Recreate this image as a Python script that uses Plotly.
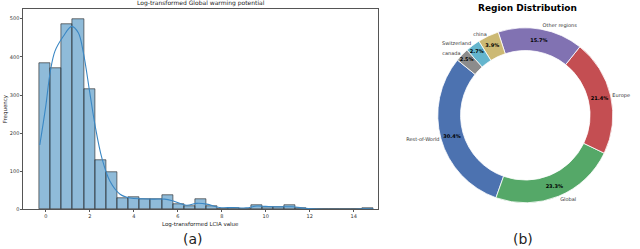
import numpy as np
import plotly.graph_objects as go

# ---------------- data ----------------
bin_min = -0.29
bin_max = 14.89
counts = [383, 370, 485, 499, 314, 129, 98, 29, 31, 27, 27, 37, 13, 8, 28,
          8, 0, 4, 0, 12, 7, 6, 10, 3, 0, 0, 0, 0, 0, 3]

kde_x = [-0.27, 0.0, 0.2, 0.42, 0.8, 1.18, 1.48, 1.71, 2.0, 2.24, 2.55, 2.92,
         3.38, 3.83, 4.4, 4.9, 5.4, 5.8, 6.4, 6.86, 7.32, 7.9, 8.5, 9.1, 9.6,
         10.0, 10.5, 11.2, 11.8, 12.3, 13.0, 13.8, 14.3, 14.6, 14.9]
kde_y = [169, 270, 359, 415, 454, 480, 463, 411, 307, 221, 135, 74,
         40, 30, 28, 27, 27, 22, 11, 16, 14, 5, 5, 4, 9,
         8, 7, 7, 3, 1, 0.5, 0.3, 1, 2, 1]

x_ticks = [0, 2, 4, 6, 8, 10, 12, 14]
y_ticks = [0, 100, 200, 300, 400, 500]

regions = ["Rest-of-World", "Global", "Europe", "Other regions", "china",
           "Switzerland", "canada"]
shares = [30.4, 23.3, 21.4, 15.7, 3.9, 2.7, 2.5]
region_colors = ["#4c72b0", "#55a868", "#c44e52", "#8172b2", "#ccb974",
                 "#64b5cd", "#8c8c8c"]

# ---------------- figure ----------------
n_bins = len(counts)
edges = np.linspace(bin_min, bin_max, n_bins + 1)
centers = (edges[:-1] + edges[1:]) / 2
bw = edges[1] - edges[0]

FONT = "DejaVu Sans"
fig = go.Figure()

fig.add_trace(go.Bar(
    x=centers, y=counts, width=bw,
    marker=dict(color="rgba(31,119,180,0.5)",
                line=dict(color="rgba(40,40,40,0.8)", width=0.8)),
    xaxis="x", yaxis="y", showlegend=False, hoverinfo="skip"))

fig.add_trace(go.Scatter(
    x=kde_x, y=kde_y, mode="lines", line=dict(color="#3a87c4", width=1.1, shape="spline"),
    xaxis="x", yaxis="y", showlegend=False, hoverinfo="skip"))

pie_domain = dict(x=[0.6823, 0.9593], y=[0.1755, 0.8871])
rot = -160.4

fig.add_trace(go.Pie(
    labels=regions, values=shares, sort=False, direction="counterclockwise",
    rotation=rot, hole=0.74, domain=pie_domain,
    marker=dict(colors=region_colors, line=dict(color="white", width=0.8)),
    texttemplate="<b>%{value:.1f}%</b>", textposition="inside",
    insidetextorientation="horizontal",
    insidetextfont=dict(family=FONT, size=5, color="black"),
    showlegend=False, hoverinfo="skip"))

fig.add_trace(go.Pie(
    labels=regions, values=shares, sort=False, direction="counterclockwise",
    rotation=rot, hole=0.74, domain=pie_domain,
    marker=dict(colors=["rgba(0,0,0,0)"] * len(regions), line=dict(width=0)),
    textinfo="label", textposition="outside",
    outsidetextfont=dict(family=FONT, size=5, color="#333333"),
    showlegend=False, hoverinfo="skip"))

axis_common = dict(showline=True, linecolor="#555555", linewidth=0.8, mirror=True,
                   ticks="outside", ticklen=2, tickwidth=0.6, tickcolor="#555555",
                   tickfont=dict(family=FONT, size=5, color="#333333"),
                   showgrid=False, zeroline=False)

fig.update_layout(
    width=640, height=249, margin=dict(l=0, r=0, t=0, b=0),
    paper_bgcolor="white", plot_bgcolor="white",
    bargap=0,
    uniformtext=dict(minsize=5, mode="show"),
    xaxis=dict(domain=[0.0364, 0.5906], range=[-1.02, 15.1], tickvals=x_ticks, **axis_common),
    yaxis=dict(domain=[0.1486, 0.9627], range=[0, 525], tickvals=y_ticks, **axis_common),
    annotations=[
        dict(text="Log-transformed Global warming potential", xref="x domain", yref="y domain",
             x=0.5, y=1, yanchor="bottom", xanchor="center", showarrow=False, yshift=0,
             font=dict(family=FONT, size=6, color="#222222")),
        dict(text="Log-transformed LCIA value", xref="x domain", yref="paper",
             x=0.5, y=1 - 227 / 249, yanchor="middle", xanchor="center", showarrow=False,
             font=dict(family=FONT, size=5.5, color="#222222")),
        dict(text="Frequency", xref="paper", yref="y domain", x=5 / 640, y=0.5,
             textangle=-90, xanchor="center", yanchor="middle", showarrow=False,
             font=dict(family=FONT, size=5.5, color="#222222")),
        dict(text="(a)", xref="paper", yref="paper", x=193 / 640, y=1 - 241.5 / 249,
             xanchor="center", yanchor="middle", showarrow=False,
             font=dict(family=FONT, size=14, color="#222222")),
        dict(text="(b)", xref="paper", yref="paper", x=523 / 640, y=1 - 241.5 / 249,
             xanchor="center", yanchor="middle", showarrow=False,
             font=dict(family=FONT, size=14, color="#222222")),
        dict(text="<b>Region Distribution</b>", xref="paper", yref="paper",
             x=527 / 640, y=1 - 8 / 249, xanchor="center", yanchor="middle", showarrow=False,
             font=dict(family=FONT, size=9, color="black")),
    ],
)

fig.write_html("out.html", config={"displayModeBar": False},
               post_script="document.body.style.margin='0px';")
